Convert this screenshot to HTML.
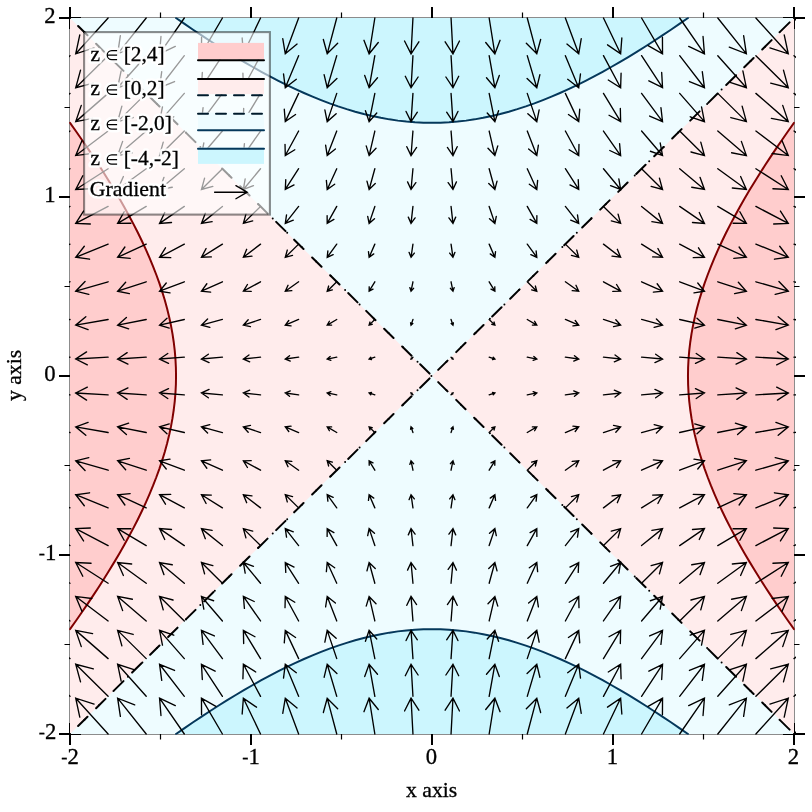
<!DOCTYPE html>
<html><head><meta charset="utf-8"><title>Contour plot</title>
<style>html,body{margin:0;padding:0;background:#fff}svg{display:block;will-change:transform}text{font-family:"Liberation Serif",serif;fill:#000;stroke:#000;stroke-width:0.3px}text.h{stroke:#fff;stroke-opacity:0.9;stroke-width:5.5px;stroke-linejoin:round;fill:#fff}</style></head>
<body>
<svg width="812" height="812" viewBox="0 0 812 812">
<defs><clipPath id="cf"><rect x="70" y="18" width="724" height="716"/></clipPath>
<clipPath id="ca"><rect x="69.2" y="17.2" width="725.6" height="717.6"/></clipPath>
<clipPath id="cb"><rect x="69.05" y="17" width="727.05" height="718"/></clipPath></defs>
<rect width="812" height="812" fill="#fff"/>
<rect x="70" y="18" width="724" height="716" fill="none" stroke="#8c8c8c" stroke-width="2"/>
<path d="M70 7V29M70 723V745M59 734H81M783 734H805M251 7V29M251 723V745M59 555H81M783 555H805M432 7V29M432 723V745M59 376H81M783 376H805M613 7V29M613 723V745M59 197H81M783 197H805M794 7V29M794 723V745M59 18H81M783 18H805" stroke="#000" stroke-width="2" fill="none"/>
<path d="M160.5 12.5V23.5M160.5 728.5V739.5M64.5 644.5H75.5M788.5 644.5H799.5M341.5 12.5V23.5M341.5 728.5V739.5M64.5 465.5H75.5M788.5 465.5H799.5M522.5 12.5V23.5M522.5 728.5V739.5M64.5 286.5H75.5M788.5 286.5H799.5M703.5 12.5V23.5M703.5 728.5V739.5M64.5 107.5H75.5M788.5 107.5H799.5" stroke="#000" stroke-width="1.2" fill="none"/>
<g clip-path="url(#cf)">
<rect x="70" y="18" width="724" height="716" fill="#ffecec"/>
<path d="M432 376L70 18L794 18ZM432 376L70 734L794 734Z" fill="#eefcff"/>
<path d="M794 629.14L788.02 620.71L782.14 612.27L776.38 603.83L770.73 595.39L765.2 586.95L759.8 578.52L754.54 570.08L749.42 561.64L744.45 553.2L739.64 544.76L734.99 536.32L730.51 527.89L726.21 519.45L722.1 511.01L718.19 502.57L714.47 494.13L710.97 485.7L707.69 477.26L704.64 468.82L701.82 460.38L699.24 451.94L696.92 443.51L694.85 435.07L693.04 426.63L691.5 418.19L690.24 409.75L689.25 401.31L688.54 392.88L688.11 384.44L687.97 376L688.11 367.56L688.54 359.12L689.25 350.69L690.24 342.25L691.5 333.81L693.04 325.37L694.85 316.93L696.92 308.49L699.24 300.06L701.82 291.62L704.64 283.18L707.69 274.74L710.97 266.3L714.47 257.87L718.19 249.43L722.1 240.99L726.21 232.55L730.51 224.11L734.99 215.68L739.64 207.24L744.45 198.8L749.42 190.36L754.54 181.92L759.8 173.48L765.2 165.05L770.73 156.61L776.38 148.17L782.14 139.73L788.02 131.29L794 122.86L799 122.86L799 629.14ZM70 629.14L75.98 620.71L81.86 612.27L87.62 603.83L93.27 595.39L98.8 586.95L104.2 578.52L109.46 570.08L114.58 561.64L119.55 553.2L124.36 544.76L129.01 536.32L133.49 527.89L137.79 519.45L141.9 511.01L145.81 502.57L149.53 494.13L153.03 485.7L156.31 477.26L159.36 468.82L162.18 460.38L164.76 451.94L167.08 443.51L169.15 435.07L170.96 426.63L172.5 418.19L173.76 409.75L174.75 401.31L175.46 392.88L175.89 384.44L176.03 376L175.89 367.56L175.46 359.12L174.75 350.69L173.76 342.25L172.5 333.81L170.96 325.37L169.15 316.93L167.08 308.49L164.76 300.06L162.18 291.62L159.36 283.18L156.31 274.74L153.03 266.3L149.53 257.87L145.81 249.43L141.9 240.99L137.79 232.55L133.49 224.11L129.01 215.68L124.36 207.24L119.55 198.8L114.58 190.36L109.46 181.92L104.2 173.48L98.8 165.05L93.27 156.61L87.62 148.17L81.86 139.73L75.98 131.29L70 122.86L65 122.86L65 629.14Z" fill="#ffcdcd"/>
<path d="M176.03 18L184.56 23.92L193.09 29.73L201.62 35.43L210.16 41.02L218.69 46.48L227.22 51.82L235.75 57.02L244.29 62.08L252.82 67L261.35 71.76L269.88 76.36L278.42 80.79L286.95 85.04L295.48 89.1L304.01 92.98L312.55 96.65L321.08 100.11L329.61 103.36L338.14 106.38L346.68 109.16L355.21 111.71L363.74 114.01L372.27 116.06L380.81 117.84L389.34 119.36L397.87 120.62L406.4 121.59L414.94 122.29L423.47 122.72L432 122.86L440.53 122.72L449.06 122.29L457.6 121.59L466.13 120.62L474.66 119.36L483.19 117.84L491.73 116.06L500.26 114.01L508.79 111.71L517.32 109.16L525.86 106.38L534.39 103.36L542.92 100.11L551.45 96.65L559.99 92.98L568.52 89.1L577.05 85.04L585.58 80.79L594.12 76.36L602.65 71.76L611.18 67L619.71 62.08L628.25 57.02L636.78 51.82L645.31 46.48L653.84 41.02L662.38 35.43L670.91 29.73L679.44 23.92L687.97 18L687.97 13L176.03 13ZM176.03 734L184.56 728.08L193.09 722.27L201.62 716.57L210.16 710.98L218.69 705.52L227.22 700.18L235.75 694.98L244.29 689.92L252.82 685L261.35 680.24L269.88 675.64L278.42 671.21L286.95 666.96L295.48 662.9L304.01 659.02L312.55 655.35L321.08 651.89L329.61 648.64L338.14 645.62L346.68 642.84L355.21 640.29L363.74 637.99L372.27 635.94L380.81 634.16L389.34 632.64L397.87 631.38L406.4 630.41L414.94 629.71L423.47 629.28L432 629.14L440.53 629.28L449.06 629.71L457.6 630.41L466.13 631.38L474.66 632.64L483.19 634.16L491.73 635.94L500.26 637.99L508.79 640.29L517.32 642.84L525.86 645.62L534.39 648.64L542.92 651.89L551.45 655.35L559.99 659.02L568.52 662.9L577.05 666.96L585.58 671.21L594.12 675.64L602.65 680.24L611.18 685L619.71 689.92L628.25 694.98L636.78 700.18L645.31 705.52L653.84 710.98L662.38 716.57L670.91 722.27L679.44 728.08L687.97 734L687.97 739L176.03 739Z" fill="#ccf6fe"/>
</g>
<g clip-path="url(#ca)" fill="none" stroke-width="2" stroke-linecap="round" stroke-linejoin="round">
<path d="M794 629.14L788.02 620.71L782.14 612.27L776.38 603.83L770.73 595.39L765.2 586.95L759.8 578.52L754.54 570.08L749.42 561.64L744.45 553.2L739.64 544.76L734.99 536.32L730.51 527.89L726.21 519.45L722.1 511.01L718.19 502.57L714.47 494.13L710.97 485.7L707.69 477.26L704.64 468.82L701.82 460.38L699.24 451.94L696.92 443.51L694.85 435.07L693.04 426.63L691.5 418.19L690.24 409.75L689.25 401.31L688.54 392.88L688.11 384.44L687.97 376L688.11 367.56L688.54 359.12L689.25 350.69L690.24 342.25L691.5 333.81L693.04 325.37L694.85 316.93L696.92 308.49L699.24 300.06L701.82 291.62L704.64 283.18L707.69 274.74L710.97 266.3L714.47 257.87L718.19 249.43L722.1 240.99L726.21 232.55L730.51 224.11L734.99 215.68L739.64 207.24L744.45 198.8L749.42 190.36L754.54 181.92L759.8 173.48L765.2 165.05L770.73 156.61L776.38 148.17L782.14 139.73L788.02 131.29L794 122.86M70 629.14L75.98 620.71L81.86 612.27L87.62 603.83L93.27 595.39L98.8 586.95L104.2 578.52L109.46 570.08L114.58 561.64L119.55 553.2L124.36 544.76L129.01 536.32L133.49 527.89L137.79 519.45L141.9 511.01L145.81 502.57L149.53 494.13L153.03 485.7L156.31 477.26L159.36 468.82L162.18 460.38L164.76 451.94L167.08 443.51L169.15 435.07L170.96 426.63L172.5 418.19L173.76 409.75L174.75 401.31L175.46 392.88L175.89 384.44L176.03 376L175.89 367.56L175.46 359.12L174.75 350.69L173.76 342.25L172.5 333.81L170.96 325.37L169.15 316.93L167.08 308.49L164.76 300.06L162.18 291.62L159.36 283.18L156.31 274.74L153.03 266.3L149.53 257.87L145.81 249.43L141.9 240.99L137.79 232.55L133.49 224.11L129.01 215.68L124.36 207.24L119.55 198.8L114.58 190.36L109.46 181.92L104.2 173.48L98.8 165.05L93.27 156.61L87.62 148.17L81.86 139.73L75.98 131.29L70 122.86" stroke="#800000"/>
<path d="M176.03 18L184.56 23.92L193.09 29.73L201.62 35.43L210.16 41.02L218.69 46.48L227.22 51.82L235.75 57.02L244.29 62.08L252.82 67L261.35 71.76L269.88 76.36L278.42 80.79L286.95 85.04L295.48 89.1L304.01 92.98L312.55 96.65L321.08 100.11L329.61 103.36L338.14 106.38L346.68 109.16L355.21 111.71L363.74 114.01L372.27 116.06L380.81 117.84L389.34 119.36L397.87 120.62L406.4 121.59L414.94 122.29L423.47 122.72L432 122.86L440.53 122.72L449.06 122.29L457.6 121.59L466.13 120.62L474.66 119.36L483.19 117.84L491.73 116.06L500.26 114.01L508.79 111.71L517.32 109.16L525.86 106.38L534.39 103.36L542.92 100.11L551.45 96.65L559.99 92.98L568.52 89.1L577.05 85.04L585.58 80.79L594.12 76.36L602.65 71.76L611.18 67L619.71 62.08L628.25 57.02L636.78 51.82L645.31 46.48L653.84 41.02L662.38 35.43L670.91 29.73L679.44 23.92L687.97 18M176.03 734L184.56 728.08L193.09 722.27L201.62 716.57L210.16 710.98L218.69 705.52L227.22 700.18L235.75 694.98L244.29 689.92L252.82 685L261.35 680.24L269.88 675.64L278.42 671.21L286.95 666.96L295.48 662.9L304.01 659.02L312.55 655.35L321.08 651.89L329.61 648.64L338.14 645.62L346.68 642.84L355.21 640.29L363.74 637.99L372.27 635.94L380.81 634.16L389.34 632.64L397.87 631.38L406.4 630.41L414.94 629.71L423.47 629.28L432 629.14L440.53 629.28L449.06 629.71L457.6 630.41L466.13 631.38L474.66 632.64L483.19 634.16L491.73 635.94L500.26 637.99L508.79 640.29L517.32 642.84L525.86 645.62L534.39 648.64L542.92 651.89L551.45 655.35L559.99 659.02L568.52 662.9L577.05 666.96L585.58 671.21L594.12 675.64L602.65 680.24L611.18 685L619.71 689.92L628.25 694.98L636.78 700.18L645.31 705.52L653.84 710.98L662.38 716.57L670.91 722.27L679.44 728.08L687.97 734" stroke="#05385b"/>
<path d="M70 18L794 734M70 734L794 18" stroke="#000" stroke-dasharray="13.2 12.12" stroke-dashoffset="13.92"/>
<path d="M431.4 376h0M70 734h0M70 18h0M84.48 719.68h0M84.48 32.32h0M98.96 705.36h0M98.96 46.64h0M113.44 691.04h0M113.44 60.96h0M127.92 676.72h0M127.92 75.28h0M142.4 662.4h0M142.4 89.6h0M156.88 648.08h0M156.88 103.92h0M171.36 633.76h0M171.36 118.24h0M185.84 619.44h0M185.84 132.56h0M200.32 605.12h0M200.32 146.88h0M214.8 590.8h0M214.8 161.2h0M229.28 576.48h0M229.28 175.52h0M243.76 562.16h0M243.76 189.84h0M258.24 547.84h0M258.24 204.16h0M272.72 533.52h0M272.72 218.48h0M287.2 519.2h0M287.2 232.8h0M301.68 504.88h0M301.68 247.12h0M316.16 490.56h0M316.16 261.44h0M330.64 476.24h0M330.64 275.76h0M345.12 461.92h0M345.12 290.08h0M359.6 447.6h0M359.6 304.4h0M374.08 433.28h0M374.08 318.72h0M388.56 418.96h0M388.56 333.04h0M403.04 404.64h0M403.04 347.36h0M417.52 390.32h0M417.52 361.68h0M446.48 361.68h0M446.48 390.32h0M460.96 347.36h0M460.96 404.64h0M475.44 333.04h0M475.44 418.96h0M489.92 318.72h0M489.92 433.28h0M504.4 304.4h0M504.4 447.6h0M518.88 290.08h0M518.88 461.92h0M533.36 275.76h0M533.36 476.24h0M547.84 261.44h0M547.84 490.56h0M562.32 247.12h0M562.32 504.88h0M576.8 232.8h0M576.8 519.2h0M591.28 218.48h0M591.28 533.52h0M605.76 204.16h0M605.76 547.84h0M620.24 189.84h0M620.24 562.16h0M634.72 175.52h0M634.72 576.48h0M649.2 161.2h0M649.2 590.8h0M663.68 146.88h0M663.68 605.12h0M678.16 132.56h0M678.16 619.44h0M692.64 118.24h0M692.64 633.76h0M707.12 103.92h0M707.12 648.08h0M721.6 89.6h0M721.6 662.4h0M736.08 75.28h0M736.08 676.72h0M750.56 60.96h0M750.56 691.04h0M765.04 46.64h0M765.04 705.36h0M779.52 32.32h0M779.52 719.68h0M794 18h0M794 734h0" stroke="#000"/>
</g>
<path clip-path="url(#cb)" d="M70 734L33.8 698.2M39.18 717.84L33.8 698.2L53.5 703.36M70 696.32L33.8 664.28M39.93 682.62L33.8 664.28L52.75 668.14M70 658.63L33.8 630.37M40.69 647.4L33.8 630.37L51.99 632.92M70 620.95L33.8 596.45M41.44 612.18L33.8 596.45L51.24 597.7M70 583.26L33.8 562.54M42.19 576.96L33.8 562.54L50.49 562.48M70 545.58L33.8 528.62M42.95 541.74L33.8 528.62L49.73 527.26M70 507.89L33.8 494.71M43.7 506.51L33.8 494.71L48.98 492.03M70 470.21L33.8 460.79M44.46 471.29L33.8 460.79L48.22 456.81M70 432.53L33.8 426.87M45.21 436.07L33.8 426.87L47.47 421.59M70 394.84L33.8 392.96M45.96 400.85L33.8 392.96L46.72 386.37M70 357.16L33.8 359.04M46.72 365.63L33.8 359.04L45.96 351.15M70 319.47L33.8 325.13M47.47 330.41L33.8 325.13L45.21 315.93M70 281.79L33.8 291.21M48.22 295.19L33.8 291.21L44.46 280.71M70 244.11L33.8 257.29M48.98 259.97L33.8 257.29L43.7 245.49M70 206.42L33.8 223.38M49.73 224.74L33.8 223.38L42.95 210.26M70 168.74L33.8 189.46M50.49 189.52L33.8 189.46L42.19 175.04M70 131.05L33.8 155.55M51.24 154.3L33.8 155.55L41.44 139.82M70 93.37L33.8 121.63M51.99 119.08L33.8 121.63L40.69 104.6M70 55.68L33.8 87.72M52.75 83.86L33.8 87.72L39.93 69.38M70 18L33.8 53.8M53.5 48.64L33.8 53.8L39.18 34.16M108.11 734L75.72 698.2M79.78 717.08L75.72 698.2L94.1 704.12M108.11 696.32L75.72 664.28M80.53 681.86L75.72 664.28L93.34 668.9M108.11 658.63L75.72 630.37M81.28 646.64L75.72 630.37L92.59 633.68M108.11 620.95L75.72 596.45M82.04 611.42L75.72 596.45L91.83 598.46M108.11 583.26L75.72 562.54M82.79 576.19L75.72 562.54L91.08 563.24M108.11 545.58L75.72 528.62M83.54 540.97L75.72 528.62L90.33 528.02M108.11 507.89L75.72 494.71M84.3 505.75L75.72 494.71L89.57 492.8M108.11 470.21L75.72 460.79M85.05 470.53L75.72 460.79L88.82 457.58M108.11 432.53L75.72 426.87M85.81 435.31L75.72 426.87L88.07 422.35M108.11 394.84L75.72 392.96M86.56 400.09L75.72 392.96L87.31 387.13M108.11 357.16L75.72 359.04M87.31 364.87L75.72 359.04L86.56 351.91M108.11 319.47L75.72 325.13M88.07 329.65L75.72 325.13L85.81 316.69M108.11 281.79L75.72 291.21M88.82 294.42L75.72 291.21L85.05 281.47M108.11 244.11L75.72 257.29M89.57 259.2L75.72 257.29L84.3 246.25M108.11 206.42L75.72 223.38M90.33 223.98L75.72 223.38L83.54 211.03M108.11 168.74L75.72 189.46M91.08 188.76L75.72 189.46L82.79 175.81M108.11 131.05L75.72 155.55M91.83 153.54L75.72 155.55L82.04 140.58M108.11 93.37L75.72 121.63M92.59 118.32L75.72 121.63L81.28 105.36M108.11 55.68L75.72 87.72M93.34 83.1L75.72 87.72L80.53 70.14M108.11 18L75.72 53.8M94.1 47.88L75.72 53.8L79.78 34.92M146.21 734L117.63 698.2M120.37 716.32L117.63 698.2L134.69 704.89M146.21 696.32L117.63 664.28M121.13 681.1L117.63 664.28L133.94 669.66M146.21 658.63L117.63 630.37M121.88 645.87L117.63 630.37L133.18 634.44M146.21 620.95L117.63 596.45M122.63 610.65L117.63 596.45L132.43 599.22M146.21 583.26L117.63 562.54M123.39 575.43L117.63 562.54L131.68 564M146.21 545.58L117.63 528.62M124.14 540.21L117.63 528.62L130.92 528.78M146.21 507.89L117.63 494.71M124.89 504.99L117.63 494.71L130.17 493.56M146.21 470.21L117.63 460.79M125.65 469.77L117.63 460.79L129.42 458.34M146.21 432.53L117.63 426.87M126.4 434.55L117.63 426.87L128.66 423.12M146.21 394.84L117.63 392.96M127.15 399.33L117.63 392.96L127.91 387.89M146.21 357.16L117.63 359.04M127.91 364.11L117.63 359.04L127.15 352.67M146.21 319.47L117.63 325.13M128.66 328.88L117.63 325.13L126.4 317.45M146.21 281.79L117.63 291.21M129.42 293.66L117.63 291.21L125.65 282.23M146.21 244.11L117.63 257.29M130.17 258.44L117.63 257.29L124.89 247.01M146.21 206.42L117.63 223.38M130.92 223.22L117.63 223.38L124.14 211.79M146.21 168.74L117.63 189.46M131.68 188L117.63 189.46L123.39 176.57M146.21 131.05L117.63 155.55M132.43 152.78L117.63 155.55L122.63 141.35M146.21 93.37L117.63 121.63M133.18 117.56L117.63 121.63L121.88 106.13M146.21 55.68L117.63 87.72M133.94 82.34L117.63 87.72L121.13 70.9M146.21 18L117.63 53.8M134.69 47.11L117.63 53.8L120.37 35.68M184.32 734L159.55 698.2M160.97 715.56L159.55 698.2L175.29 705.65M184.32 696.32L159.55 664.28M161.72 680.33L159.55 664.28L174.53 670.43M184.32 658.63L159.55 630.37M162.47 645.11L159.55 630.37L173.78 635.21M184.32 620.95L159.55 596.45M163.23 609.89L159.55 596.45L173.03 599.98M184.32 583.26L159.55 562.54M163.98 574.67L159.55 562.54L172.27 564.76M184.32 545.58L159.55 528.62M164.74 539.45L159.55 528.62L171.52 529.54M184.32 507.89L159.55 494.71M165.49 504.23L159.55 494.71L170.77 494.32M184.32 470.21L159.55 460.79M166.24 469.01L159.55 460.79L170.01 459.1M184.32 432.53L159.55 426.87M167 433.79L159.55 426.87L169.26 423.88M184.32 394.84L159.55 392.96M167.75 398.56L159.55 392.96L168.5 388.66M184.32 357.16L159.55 359.04M168.5 363.34L159.55 359.04L167.75 353.44M184.32 319.47L159.55 325.13M169.26 328.12L159.55 325.13L167 318.21M184.32 281.79L159.55 291.21M170.01 292.9L159.55 291.21L166.24 282.99M184.32 244.11L159.55 257.29M170.77 257.68L159.55 257.29L165.49 247.77M184.32 206.42L159.55 223.38M171.52 222.46L159.55 223.38L164.74 212.55M184.32 168.74L159.55 189.46M172.27 187.24L159.55 189.46L163.98 177.33M184.32 131.05L159.55 155.55M173.03 152.02L159.55 155.55L163.23 142.11M184.32 93.37L159.55 121.63M173.78 116.79L159.55 121.63L162.47 106.89M184.32 55.68L159.55 87.72M174.53 81.57L159.55 87.72L161.72 71.67M184.32 18L159.55 53.8M175.29 46.35L159.55 53.8L160.97 36.44M222.42 734L201.46 698.2M201.56 714.79L201.46 698.2L215.88 706.41M222.42 696.32L201.46 664.28M202.32 679.57L201.46 664.28L215.13 671.19M222.42 658.63L201.46 630.37M203.07 644.35L201.46 630.37L214.38 635.97M222.42 620.95L201.46 596.45M203.82 609.13L201.46 596.45L213.62 600.75M222.42 583.26L201.46 562.54M204.58 573.91L201.46 562.54L212.87 565.53M222.42 545.58L201.46 528.62M205.33 538.69L201.46 528.62L212.11 530.3M222.42 507.89L201.46 494.71M206.09 503.47L201.46 494.71L211.36 495.08M222.42 470.21L201.46 460.79M206.84 468.24L201.46 460.79L210.61 459.86M222.42 432.53L201.46 426.87M207.59 433.02L201.46 426.87L209.85 424.64M222.42 394.84L201.46 392.96M208.35 397.8L201.46 392.96L209.1 389.42M222.42 357.16L201.46 359.04M209.1 362.58L201.46 359.04L208.35 354.2M222.42 319.47L201.46 325.13M209.85 327.36L201.46 325.13L207.59 318.98M222.42 281.79L201.46 291.21M210.61 292.14L201.46 291.21L206.84 283.76M222.42 244.11L201.46 257.29M211.36 256.92L201.46 257.29L206.09 248.53M222.42 206.42L201.46 223.38M212.11 221.7L201.46 223.38L205.33 213.31M222.42 168.74L201.46 189.46M212.87 186.47L201.46 189.46L204.58 178.09M222.42 131.05L201.46 155.55M213.62 151.25L201.46 155.55L203.82 142.87M222.42 93.37L201.46 121.63M214.38 116.03L201.46 121.63L203.07 107.65M222.42 55.68L201.46 87.72M215.13 80.81L201.46 87.72L202.32 72.43M222.42 18L201.46 53.8M215.88 45.59L201.46 53.8L201.56 37.21M260.53 734L243.38 698.2M242.16 714.03L243.38 698.2L256.48 707.17M260.53 696.32L243.38 664.28M242.91 678.81L243.38 664.28L255.73 671.95M260.53 658.63L243.38 630.37M243.67 643.59L243.38 630.37L254.97 636.73M260.53 620.95L243.38 596.45M244.42 608.37L243.38 596.45L254.22 601.51M260.53 583.26L243.38 562.54M245.17 573.15L243.38 562.54L253.46 566.29M260.53 545.58L243.38 528.62M245.93 537.92L243.38 528.62L252.71 531.07M260.53 507.89L243.38 494.71M246.68 502.7L243.38 494.71L251.96 495.84M260.53 470.21L243.38 460.79M247.43 467.48L243.38 460.79L251.2 460.62M260.53 432.53L243.38 426.87M248.19 432.26L243.38 426.87L250.45 425.4M260.53 394.84L243.38 392.96M248.94 397.04L243.38 392.96L249.7 390.18M260.53 357.16L243.38 359.04M249.7 361.82L243.38 359.04L248.94 354.96M260.53 319.47L243.38 325.13M250.45 326.6L243.38 325.13L248.19 319.74M260.53 281.79L243.38 291.21M251.2 291.38L243.38 291.21L247.43 284.52M260.53 244.11L243.38 257.29M251.96 256.16L243.38 257.29L246.68 249.3M260.53 206.42L243.38 223.38M252.71 220.93L243.38 223.38L245.93 214.08M260.53 168.74L243.38 189.46M253.46 185.71L243.38 189.46L245.17 178.85M260.53 131.05L243.38 155.55M254.22 150.49L243.38 155.55L244.42 143.63M260.53 93.37L243.38 121.63M254.97 115.27L243.38 121.63L243.67 108.41M260.53 55.68L243.38 87.72M255.73 80.05L243.38 87.72L242.91 73.19M260.53 18L243.38 53.8M256.48 44.83L243.38 53.8L242.16 37.97M298.63 734L285.29 698.2M282.75 713.27L285.29 698.2L297.07 707.93M298.63 696.32L285.29 664.28M283.51 678.05L285.29 664.28L296.32 672.71M298.63 658.63L285.29 630.37M284.26 642.83L285.29 630.37L295.57 637.49M298.63 620.95L285.29 596.45M285.02 607.61L285.29 596.45L294.81 602.27M298.63 583.26L285.29 562.54M285.77 572.38L285.29 562.54L294.06 567.05M298.63 545.58L285.29 528.62M286.52 537.16L285.29 528.62L293.31 531.83M298.63 507.89L285.29 494.71M287.28 501.94L285.29 494.71L292.55 496.61M298.63 470.21L285.29 460.79M288.03 466.72L285.29 460.79L291.8 461.39M298.63 432.53L285.29 426.87M288.78 431.5L285.29 426.87L291.05 426.16M298.63 394.84L285.29 392.96M289.54 396.28L285.29 392.96L290.29 390.94M298.63 357.16L285.29 359.04M290.29 361.06L285.29 359.04L289.54 355.72M298.63 319.47L285.29 325.13M291.05 325.84L285.29 325.13L288.78 320.5M298.63 281.79L285.29 291.21M291.8 290.61L285.29 291.21L288.03 285.28M298.63 244.11L285.29 257.29M292.55 255.39L285.29 257.29L287.28 250.06M298.63 206.42L285.29 223.38M293.31 220.17L285.29 223.38L286.52 214.84M298.63 168.74L285.29 189.46M294.06 184.95L285.29 189.46L285.77 179.62M298.63 131.05L285.29 155.55M294.81 149.73L285.29 155.55L285.02 144.39M298.63 93.37L285.29 121.63M295.57 114.51L285.29 121.63L284.26 109.17M298.63 55.68L285.29 87.72M296.32 79.29L285.29 87.72L283.51 73.95M298.63 18L285.29 53.8M297.07 44.07L285.29 53.8L282.75 38.73M336.74 734L327.21 698.2M323.35 712.51L327.21 698.2L337.67 708.7M336.74 696.32L327.21 664.28M324.1 677.29L327.21 664.28L336.92 673.48M336.74 658.63L327.21 630.37M324.86 642.06L327.21 630.37L336.16 638.25M336.74 620.95L327.21 596.45M325.61 606.84L327.21 596.45L335.41 603.03M336.74 583.26L327.21 562.54M326.37 571.62L327.21 562.54L334.66 567.81M336.74 545.58L327.21 528.62M327.12 536.4L327.21 528.62L333.9 532.59M336.74 507.89L327.21 494.71M327.87 501.18L327.21 494.71L333.15 497.37M336.74 470.21L327.21 460.79M328.63 465.96L327.21 460.79L332.39 462.15M336.74 432.53L327.21 426.87M329.38 430.74L327.21 426.87L331.64 426.93M336.74 394.84L327.21 392.96M330.13 395.52L327.21 392.96L330.89 391.71M336.74 357.16L327.21 359.04M330.89 360.29L327.21 359.04L330.13 356.48M336.74 319.47L327.21 325.13M331.64 325.07L327.21 325.13L329.38 321.26M336.74 281.79L327.21 291.21M332.39 289.85L327.21 291.21L328.63 286.04M336.74 244.11L327.21 257.29M333.15 254.63L327.21 257.29L327.87 250.82M336.74 206.42L327.21 223.38M333.9 219.41L327.21 223.38L327.12 215.6M336.74 168.74L327.21 189.46M334.66 184.19L327.21 189.46L326.37 180.38M336.74 131.05L327.21 155.55M335.41 148.97L327.21 155.55L325.61 145.16M336.74 93.37L327.21 121.63M336.16 113.75L327.21 121.63L324.86 109.94M336.74 55.68L327.21 87.72M336.92 78.52L327.21 87.72L324.1 74.71M336.74 18L327.21 53.8M337.67 43.3L327.21 53.8L323.35 39.49M374.84 734L369.13 698.2M363.95 711.74L369.13 698.2L378.27 709.46M374.84 696.32L369.13 664.28M364.7 676.52L369.13 664.28L377.51 674.24M374.84 658.63L369.13 630.37M365.45 641.3L369.13 630.37L376.76 639.02M374.84 620.95L369.13 596.45M366.21 606.08L369.13 596.45L376.01 603.79M374.84 583.26L369.13 562.54M366.96 570.86L369.13 562.54L375.25 568.57M374.84 545.58L369.13 528.62M367.71 535.64L369.13 528.62L374.5 533.35M374.84 507.89L369.13 494.71M368.47 500.42L369.13 494.71L373.74 498.13M374.84 470.21L369.13 460.79M369.22 465.2L369.13 460.79L372.99 462.91M374.84 432.53L369.13 426.87M369.98 429.97L369.13 426.87L372.24 427.69M374.84 394.84L369.13 392.96M370.73 394.75L369.13 392.96L371.48 392.47M374.84 357.16L369.13 359.04M371.48 359.53L369.13 359.04L370.73 357.25M374.84 319.47L369.13 325.13M372.24 324.31L369.13 325.13L369.98 322.03M374.84 281.79L369.13 291.21M372.99 289.09L369.13 291.21L369.22 286.8M374.84 244.11L369.13 257.29M373.74 253.87L369.13 257.29L368.47 251.58M374.84 206.42L369.13 223.38M374.5 218.65L369.13 223.38L367.71 216.36M374.84 168.74L369.13 189.46M375.25 183.43L369.13 189.46L366.96 181.14M374.84 131.05L369.13 155.55M376.01 148.21L369.13 155.55L366.21 145.92M374.84 93.37L369.13 121.63M376.76 112.98L369.13 121.63L365.45 110.7M374.84 55.68L369.13 87.72M377.51 77.76L369.13 87.72L364.7 75.48M374.84 18L369.13 53.8M378.27 42.54L369.13 53.8L363.95 40.26M412.95 734L411.04 698.2M404.54 710.98L411.04 698.2L418.86 710.22M412.95 696.32L411.04 664.28M405.3 675.76L411.04 664.28L418.11 675M412.95 658.63L411.04 630.37M406.05 640.54L411.04 630.37L417.35 639.78M412.95 620.95L411.04 596.45M406.8 605.32L411.04 596.45L416.6 604.56M412.95 583.26L411.04 562.54M407.56 570.1L411.04 562.54L415.85 569.34M412.95 545.58L411.04 528.62M408.31 534.88L411.04 528.62L415.09 534.11M412.95 507.89L411.04 494.71M409.06 499.66L411.04 494.71L414.34 498.89M412.95 470.21L411.04 460.79M409.82 464.43L411.04 460.79L413.59 463.67M412.95 432.53L411.04 426.87M410.57 429.21L411.04 426.87L412.83 428.45M412.95 394.84L411.04 392.96M411.33 393.99L411.04 392.96L412.08 393.23M412.95 357.16L411.04 359.04M412.08 358.77L411.04 359.04L411.33 358.01M412.95 319.47L411.04 325.13M412.83 323.55L411.04 325.13L410.57 322.79M412.95 281.79L411.04 291.21M413.59 288.33L411.04 291.21L409.82 287.57M412.95 244.11L411.04 257.29M414.34 253.11L411.04 257.29L409.06 252.34M412.95 206.42L411.04 223.38M415.09 217.89L411.04 223.38L408.31 217.12M412.95 168.74L411.04 189.46M415.85 182.66L411.04 189.46L407.56 181.9M412.95 131.05L411.04 155.55M416.6 147.44L411.04 155.55L406.8 146.68M412.95 93.37L411.04 121.63M417.35 112.22L411.04 121.63L406.05 111.46M412.95 55.68L411.04 87.72M418.11 77L411.04 87.72L405.3 76.24M412.95 18L411.04 53.8M418.86 41.78L411.04 53.8L404.54 41.02M451.05 734L452.96 698.2M445.14 710.22L452.96 698.2L459.46 710.98M451.05 696.32L452.96 664.28M445.89 675L452.96 664.28L458.7 675.76M451.05 658.63L452.96 630.37M446.65 639.78L452.96 630.37L457.95 640.54M451.05 620.95L452.96 596.45M447.4 604.56L452.96 596.45L457.2 605.32M451.05 583.26L452.96 562.54M448.15 569.34L452.96 562.54L456.44 570.1M451.05 545.58L452.96 528.62M448.91 534.11L452.96 528.62L455.69 534.88M451.05 507.89L452.96 494.71M449.66 498.89L452.96 494.71L454.94 499.66M451.05 470.21L452.96 460.79M450.41 463.67L452.96 460.79L454.18 464.43M451.05 432.53L452.96 426.87M451.17 428.45L452.96 426.87L453.43 429.21M451.05 394.84L452.96 392.96M451.92 393.23L452.96 392.96L452.67 393.99M451.05 357.16L452.96 359.04M452.67 358.01L452.96 359.04L451.92 358.77M451.05 319.47L452.96 325.13M453.43 322.79L452.96 325.13L451.17 323.55M451.05 281.79L452.96 291.21M454.18 287.57L452.96 291.21L450.41 288.33M451.05 244.11L452.96 257.29M454.94 252.34L452.96 257.29L449.66 253.11M451.05 206.42L452.96 223.38M455.69 217.12L452.96 223.38L448.91 217.89M451.05 168.74L452.96 189.46M456.44 181.9L452.96 189.46L448.15 182.66M451.05 131.05L452.96 155.55M457.2 146.68L452.96 155.55L447.4 147.44M451.05 93.37L452.96 121.63M457.95 111.46L452.96 121.63L446.65 112.22M451.05 55.68L452.96 87.72M458.7 76.24L452.96 87.72L445.89 77M451.05 18L452.96 53.8M459.46 41.02L452.96 53.8L445.14 41.78M489.16 734L494.87 698.2M485.73 709.46L494.87 698.2L500.05 711.74M489.16 696.32L494.87 664.28M486.49 674.24L494.87 664.28L499.3 676.52M489.16 658.63L494.87 630.37M487.24 639.02L494.87 630.37L498.55 641.3M489.16 620.95L494.87 596.45M487.99 603.79L494.87 596.45L497.79 606.08M489.16 583.26L494.87 562.54M488.75 568.57L494.87 562.54L497.04 570.86M489.16 545.58L494.87 528.62M489.5 533.35L494.87 528.62L496.29 535.64M489.16 507.89L494.87 494.71M490.26 498.13L494.87 494.71L495.53 500.42M489.16 470.21L494.87 460.79M491.01 462.91L494.87 460.79L494.78 465.2M489.16 432.53L494.87 426.87M491.76 427.69L494.87 426.87L494.02 429.97M489.16 394.84L494.87 392.96M492.52 392.47L494.87 392.96L493.27 394.75M489.16 357.16L494.87 359.04M493.27 357.25L494.87 359.04L492.52 359.53M489.16 319.47L494.87 325.13M494.02 322.03L494.87 325.13L491.76 324.31M489.16 281.79L494.87 291.21M494.78 286.8L494.87 291.21L491.01 289.09M489.16 244.11L494.87 257.29M495.53 251.58L494.87 257.29L490.26 253.87M489.16 206.42L494.87 223.38M496.29 216.36L494.87 223.38L489.5 218.65M489.16 168.74L494.87 189.46M497.04 181.14L494.87 189.46L488.75 183.43M489.16 131.05L494.87 155.55M497.79 145.92L494.87 155.55L487.99 148.21M489.16 93.37L494.87 121.63M498.55 110.7L494.87 121.63L487.24 112.98M489.16 55.68L494.87 87.72M499.3 75.48L494.87 87.72L486.49 77.76M489.16 18L494.87 53.8M500.05 40.26L494.87 53.8L485.73 42.54M527.26 734L536.79 698.2M526.33 708.7L536.79 698.2L540.65 712.51M527.26 696.32L536.79 664.28M527.08 673.48L536.79 664.28L539.9 677.29M527.26 658.63L536.79 630.37M527.84 638.25L536.79 630.37L539.14 642.06M527.26 620.95L536.79 596.45M528.59 603.03L536.79 596.45L538.39 606.84M527.26 583.26L536.79 562.54M529.34 567.81L536.79 562.54L537.63 571.62M527.26 545.58L536.79 528.62M530.1 532.59L536.79 528.62L536.88 536.4M527.26 507.89L536.79 494.71M530.85 497.37L536.79 494.71L536.13 501.18M527.26 470.21L536.79 460.79M531.61 462.15L536.79 460.79L535.37 465.96M527.26 432.53L536.79 426.87M532.36 426.93L536.79 426.87L534.62 430.74M527.26 394.84L536.79 392.96M533.11 391.71L536.79 392.96L533.87 395.52M527.26 357.16L536.79 359.04M533.87 356.48L536.79 359.04L533.11 360.29M527.26 319.47L536.79 325.13M534.62 321.26L536.79 325.13L532.36 325.07M527.26 281.79L536.79 291.21M535.37 286.04L536.79 291.21L531.61 289.85M527.26 244.11L536.79 257.29M536.13 250.82L536.79 257.29L530.85 254.63M527.26 206.42L536.79 223.38M536.88 215.6L536.79 223.38L530.1 219.41M527.26 168.74L536.79 189.46M537.63 180.38L536.79 189.46L529.34 184.19M527.26 131.05L536.79 155.55M538.39 145.16L536.79 155.55L528.59 148.97M527.26 93.37L536.79 121.63M539.14 109.94L536.79 121.63L527.84 113.75M527.26 55.68L536.79 87.72M539.9 74.71L536.79 87.72L527.08 78.52M527.26 18L536.79 53.8M540.65 39.49L536.79 53.8L526.33 43.3M565.37 734L578.71 698.2M566.93 707.93L578.71 698.2L581.25 713.27M565.37 696.32L578.71 664.28M567.68 672.71L578.71 664.28L580.49 678.05M565.37 658.63L578.71 630.37M568.43 637.49L578.71 630.37L579.74 642.83M565.37 620.95L578.71 596.45M569.19 602.27L578.71 596.45L578.98 607.61M565.37 583.26L578.71 562.54M569.94 567.05L578.71 562.54L578.23 572.38M565.37 545.58L578.71 528.62M570.69 531.83L578.71 528.62L577.48 537.16M565.37 507.89L578.71 494.71M571.45 496.61L578.71 494.71L576.72 501.94M565.37 470.21L578.71 460.79M572.2 461.39L578.71 460.79L575.97 466.72M565.37 432.53L578.71 426.87M572.95 426.16L578.71 426.87L575.22 431.5M565.37 394.84L578.71 392.96M573.71 390.94L578.71 392.96L574.46 396.28M565.37 357.16L578.71 359.04M574.46 355.72L578.71 359.04L573.71 361.06M565.37 319.47L578.71 325.13M575.22 320.5L578.71 325.13L572.95 325.84M565.37 281.79L578.71 291.21M575.97 285.28L578.71 291.21L572.2 290.61M565.37 244.11L578.71 257.29M576.72 250.06L578.71 257.29L571.45 255.39M565.37 206.42L578.71 223.38M577.48 214.84L578.71 223.38L570.69 220.17M565.37 168.74L578.71 189.46M578.23 179.62L578.71 189.46L569.94 184.95M565.37 131.05L578.71 155.55M578.98 144.39L578.71 155.55L569.19 149.73M565.37 93.37L578.71 121.63M579.74 109.17L578.71 121.63L568.43 114.51M565.37 55.68L578.71 87.72M580.49 73.95L578.71 87.72L567.68 79.29M565.37 18L578.71 53.8M581.25 38.73L578.71 53.8L566.93 44.07M603.47 734L620.62 698.2M607.52 707.17L620.62 698.2L621.84 714.03M603.47 696.32L620.62 664.28M608.27 671.95L620.62 664.28L621.09 678.81M603.47 658.63L620.62 630.37M609.03 636.73L620.62 630.37L620.33 643.59M603.47 620.95L620.62 596.45M609.78 601.51L620.62 596.45L619.58 608.37M603.47 583.26L620.62 562.54M610.54 566.29L620.62 562.54L618.83 573.15M603.47 545.58L620.62 528.62M611.29 531.07L620.62 528.62L618.07 537.92M603.47 507.89L620.62 494.71M612.04 495.84L620.62 494.71L617.32 502.7M603.47 470.21L620.62 460.79M612.8 460.62L620.62 460.79L616.57 467.48M603.47 432.53L620.62 426.87M613.55 425.4L620.62 426.87L615.81 432.26M603.47 394.84L620.62 392.96M614.3 390.18L620.62 392.96L615.06 397.04M603.47 357.16L620.62 359.04M615.06 354.96L620.62 359.04L614.3 361.82M603.47 319.47L620.62 325.13M615.81 319.74L620.62 325.13L613.55 326.6M603.47 281.79L620.62 291.21M616.57 284.52L620.62 291.21L612.8 291.38M603.47 244.11L620.62 257.29M617.32 249.3L620.62 257.29L612.04 256.16M603.47 206.42L620.62 223.38M618.07 214.08L620.62 223.38L611.29 220.93M603.47 168.74L620.62 189.46M618.83 178.85L620.62 189.46L610.54 185.71M603.47 131.05L620.62 155.55M619.58 143.63L620.62 155.55L609.78 150.49M603.47 93.37L620.62 121.63M620.33 108.41L620.62 121.63L609.03 115.27M603.47 55.68L620.62 87.72M621.09 73.19L620.62 87.72L608.27 80.05M603.47 18L620.62 53.8M621.84 37.97L620.62 53.8L607.52 44.83M641.58 734L662.54 698.2M648.12 706.41L662.54 698.2L662.44 714.79M641.58 696.32L662.54 664.28M648.87 671.19L662.54 664.28L661.68 679.57M641.58 658.63L662.54 630.37M649.62 635.97L662.54 630.37L660.93 644.35M641.58 620.95L662.54 596.45M650.38 600.75L662.54 596.45L660.18 609.13M641.58 583.26L662.54 562.54M651.13 565.53L662.54 562.54L659.42 573.91M641.58 545.58L662.54 528.62M651.89 530.3L662.54 528.62L658.67 538.69M641.58 507.89L662.54 494.71M652.64 495.08L662.54 494.71L657.91 503.47M641.58 470.21L662.54 460.79M653.39 459.86L662.54 460.79L657.16 468.24M641.58 432.53L662.54 426.87M654.15 424.64L662.54 426.87L656.41 433.02M641.58 394.84L662.54 392.96M654.9 389.42L662.54 392.96L655.65 397.8M641.58 357.16L662.54 359.04M655.65 354.2L662.54 359.04L654.9 362.58M641.58 319.47L662.54 325.13M656.41 318.98L662.54 325.13L654.15 327.36M641.58 281.79L662.54 291.21M657.16 283.76L662.54 291.21L653.39 292.14M641.58 244.11L662.54 257.29M657.91 248.53L662.54 257.29L652.64 256.92M641.58 206.42L662.54 223.38M658.67 213.31L662.54 223.38L651.89 221.7M641.58 168.74L662.54 189.46M659.42 178.09L662.54 189.46L651.13 186.47M641.58 131.05L662.54 155.55M660.18 142.87L662.54 155.55L650.38 151.25M641.58 93.37L662.54 121.63M660.93 107.65L662.54 121.63L649.62 116.03M641.58 55.68L662.54 87.72M661.68 72.43L662.54 87.72L648.87 80.81M641.58 18L662.54 53.8M662.44 37.21L662.54 53.8L648.12 45.59M679.68 734L704.45 698.2M688.71 705.65L704.45 698.2L703.03 715.56M679.68 696.32L704.45 664.28M689.47 670.43L704.45 664.28L702.28 680.33M679.68 658.63L704.45 630.37M690.22 635.21L704.45 630.37L701.53 645.11M679.68 620.95L704.45 596.45M690.97 599.98L704.45 596.45L700.77 609.89M679.68 583.26L704.45 562.54M691.73 564.76L704.45 562.54L700.02 574.67M679.68 545.58L704.45 528.62M692.48 529.54L704.45 528.62L699.26 539.45M679.68 507.89L704.45 494.71M693.23 494.32L704.45 494.71L698.51 504.23M679.68 470.21L704.45 460.79M693.99 459.1L704.45 460.79L697.76 469.01M679.68 432.53L704.45 426.87M694.74 423.88L704.45 426.87L697 433.79M679.68 394.84L704.45 392.96M695.5 388.66L704.45 392.96L696.25 398.56M679.68 357.16L704.45 359.04M696.25 353.44L704.45 359.04L695.5 363.34M679.68 319.47L704.45 325.13M697 318.21L704.45 325.13L694.74 328.12M679.68 281.79L704.45 291.21M697.76 282.99L704.45 291.21L693.99 292.9M679.68 244.11L704.45 257.29M698.51 247.77L704.45 257.29L693.23 257.68M679.68 206.42L704.45 223.38M699.26 212.55L704.45 223.38L692.48 222.46M679.68 168.74L704.45 189.46M700.02 177.33L704.45 189.46L691.73 187.24M679.68 131.05L704.45 155.55M700.77 142.11L704.45 155.55L690.97 152.02M679.68 93.37L704.45 121.63M701.53 106.89L704.45 121.63L690.22 116.79M679.68 55.68L704.45 87.72M702.28 71.67L704.45 87.72L689.47 81.57M679.68 18L704.45 53.8M703.03 36.44L704.45 53.8L688.71 46.35M717.79 734L746.37 698.2M729.31 704.89L746.37 698.2L743.63 716.32M717.79 696.32L746.37 664.28M730.06 669.66L746.37 664.28L742.87 681.1M717.79 658.63L746.37 630.37M730.82 634.44L746.37 630.37L742.12 645.87M717.79 620.95L746.37 596.45M731.57 599.22L746.37 596.45L741.37 610.65M717.79 583.26L746.37 562.54M732.32 564L746.37 562.54L740.61 575.43M717.79 545.58L746.37 528.62M733.08 528.78L746.37 528.62L739.86 540.21M717.79 507.89L746.37 494.71M733.83 493.56L746.37 494.71L739.11 504.99M717.79 470.21L746.37 460.79M734.58 458.34L746.37 460.79L738.35 469.77M717.79 432.53L746.37 426.87M735.34 423.12L746.37 426.87L737.6 434.55M717.79 394.84L746.37 392.96M736.09 387.89L746.37 392.96L736.85 399.33M717.79 357.16L746.37 359.04M736.85 352.67L746.37 359.04L736.09 364.11M717.79 319.47L746.37 325.13M737.6 317.45L746.37 325.13L735.34 328.88M717.79 281.79L746.37 291.21M738.35 282.23L746.37 291.21L734.58 293.66M717.79 244.11L746.37 257.29M739.11 247.01L746.37 257.29L733.83 258.44M717.79 206.42L746.37 223.38M739.86 211.79L746.37 223.38L733.08 223.22M717.79 168.74L746.37 189.46M740.61 176.57L746.37 189.46L732.32 188M717.79 131.05L746.37 155.55M741.37 141.35L746.37 155.55L731.57 152.78M717.79 93.37L746.37 121.63M742.12 106.13L746.37 121.63L730.82 117.56M717.79 55.68L746.37 87.72M742.87 70.9L746.37 87.72L730.06 82.34M717.79 18L746.37 53.8M743.63 35.68L746.37 53.8L729.31 47.11M755.89 734L788.28 698.2M769.9 704.12L788.28 698.2L784.22 717.08M755.89 696.32L788.28 664.28M770.66 668.9L788.28 664.28L783.47 681.86M755.89 658.63L788.28 630.37M771.41 633.68L788.28 630.37L782.72 646.64M755.89 620.95L788.28 596.45M772.17 598.46L788.28 596.45L781.96 611.42M755.89 583.26L788.28 562.54M772.92 563.24L788.28 562.54L781.21 576.19M755.89 545.58L788.28 528.62M773.67 528.02L788.28 528.62L780.46 540.97M755.89 507.89L788.28 494.71M774.43 492.8L788.28 494.71L779.7 505.75M755.89 470.21L788.28 460.79M775.18 457.58L788.28 460.79L778.95 470.53M755.89 432.53L788.28 426.87M775.93 422.35L788.28 426.87L778.19 435.31M755.89 394.84L788.28 392.96M776.69 387.13L788.28 392.96L777.44 400.09M755.89 357.16L788.28 359.04M777.44 351.91L788.28 359.04L776.69 364.87M755.89 319.47L788.28 325.13M778.19 316.69L788.28 325.13L775.93 329.65M755.89 281.79L788.28 291.21M778.95 281.47L788.28 291.21L775.18 294.42M755.89 244.11L788.28 257.29M779.7 246.25L788.28 257.29L774.43 259.2M755.89 206.42L788.28 223.38M780.46 211.03L788.28 223.38L773.67 223.98M755.89 168.74L788.28 189.46M781.21 175.81L788.28 189.46L772.92 188.76M755.89 131.05L788.28 155.55M781.96 140.58L788.28 155.55L772.17 153.54M755.89 93.37L788.28 121.63M782.72 105.36L788.28 121.63L771.41 118.32M755.89 55.68L788.28 87.72M783.47 70.14L788.28 87.72L770.66 83.1M755.89 18L788.28 53.8M784.22 34.92L788.28 53.8L769.9 47.88M794 734L830.2 698.2M810.5 703.36L830.2 698.2L824.82 717.84M794 696.32L830.2 664.28M811.25 668.14L830.2 664.28L824.07 682.62M794 658.63L830.2 630.37M812.01 632.92L830.2 630.37L823.31 647.4M794 620.95L830.2 596.45M812.76 597.7L830.2 596.45L822.56 612.18M794 583.26L830.2 562.54M813.51 562.48L830.2 562.54L821.81 576.96M794 545.58L830.2 528.62M814.27 527.26L830.2 528.62L821.05 541.74M794 507.89L830.2 494.71M815.02 492.03L830.2 494.71L820.3 506.51M794 470.21L830.2 460.79M815.78 456.81L830.2 460.79L819.54 471.29M794 432.53L830.2 426.87M816.53 421.59L830.2 426.87L818.79 436.07M794 394.84L830.2 392.96M817.28 386.37L830.2 392.96L818.04 400.85M794 357.16L830.2 359.04M818.04 351.15L830.2 359.04L817.28 365.63M794 319.47L830.2 325.13M818.79 315.93L830.2 325.13L816.53 330.41M794 281.79L830.2 291.21M819.54 280.71L830.2 291.21L815.78 295.19M794 244.11L830.2 257.29M820.3 245.49L830.2 257.29L815.02 259.97M794 206.42L830.2 223.38M821.05 210.26L830.2 223.38L814.27 224.74M794 168.74L830.2 189.46M821.81 175.04L830.2 189.46L813.51 189.52M794 131.05L830.2 155.55M822.56 139.82L830.2 155.55L812.76 154.3M794 93.37L830.2 121.63M823.31 104.6L830.2 121.63L812.01 119.08M794 55.68L830.2 87.72M824.07 69.38L830.2 87.72L811.25 83.86M794 18L830.2 53.8M824.82 34.16L830.2 53.8L810.5 48.64" stroke="#000" stroke-width="1.35" fill="none" stroke-linecap="round" stroke-linejoin="miter" stroke-miterlimit="10"/>
<text x="70.1" y="764" font-family="Liberation Serif, serif" font-size="22.7" text-anchor="middle"><tspan font-size="18.5" dy="-1.1">-</tspan><tspan dy="1.1">2</tspan></text>
<text x="56.3" y="738.8" font-family="Liberation Serif, serif" font-size="22.7" text-anchor="end"><tspan font-size="18.5" dy="-1.1">-</tspan><tspan dy="1.1">2</tspan></text>
<text x="251.1" y="764" font-family="Liberation Serif, serif" font-size="22.7" text-anchor="middle"><tspan font-size="18.5" dy="-1.1">-</tspan><tspan dy="1.1">1</tspan></text>
<text x="56.3" y="559.8" font-family="Liberation Serif, serif" font-size="22.7" text-anchor="end"><tspan font-size="18.5" dy="-1.1">-</tspan><tspan dy="1.1">1</tspan></text>
<text x="431.5" y="764" font-family="Liberation Serif, serif" font-size="22.7" text-anchor="middle">0</text>
<text x="55.5" y="380.8" font-family="Liberation Serif, serif" font-size="22.7" text-anchor="end">0</text>
<text x="612.5" y="764" font-family="Liberation Serif, serif" font-size="22.7" text-anchor="middle">1</text>
<text x="55.5" y="201.8" font-family="Liberation Serif, serif" font-size="22.7" text-anchor="end">1</text>
<text x="793.5" y="764" font-family="Liberation Serif, serif" font-size="22.7" text-anchor="middle">2</text>
<text x="55.5" y="22.8" font-family="Liberation Serif, serif" font-size="22.7" text-anchor="end">2</text>
<text x="431.6" y="796.9" font-family="Liberation Serif, serif" font-size="21.7" text-anchor="middle">x axis</text>
<text transform="translate(21.0 375.5) rotate(-90)" font-family="Liberation Serif, serif" font-size="21.7" text-anchor="middle">y axis</text>
<rect x="84.1" y="32.1" width="185.8" height="182.5" fill="rgba(255,255,255,0.6)" stroke="rgba(0,0,0,0.45)" stroke-width="2.1"/>
<rect x="198" y="42.9" width="66" height="16.7" fill="#ffcdcd"/>
<path d="M198 60.3H264" stroke="#000" stroke-width="2" stroke-linecap="round" fill="none"/>
<rect x="198" y="77.9" width="66" height="16.2" fill="#ffecec"/>
<path d="M198 79H264" stroke="#000" stroke-width="2" stroke-linecap="round" fill="none"/>
<path d="M198 95.35H264" stroke="#001a2b" stroke-width="2" stroke-linecap="round" fill="none" stroke-dasharray="10 8"/>
<rect x="198" y="112.7" width="66" height="16.3" fill="#eefcff"/>
<path d="M198 113.8H264" stroke="#001a2b" stroke-width="2" stroke-linecap="round" fill="none" stroke-dasharray="10 8"/>
<path d="M198 130.2H264" stroke="#05385b" stroke-width="2" stroke-linecap="round" fill="none"/>
<rect x="198" y="147.6" width="66" height="16.3" fill="#ccf6fe"/>
<path d="M198 148.8H264" stroke="#05385b" stroke-width="2" stroke-linecap="round" fill="none"/>
<path d="M214.6 192.2L247.2 192.2M235.91 185.68L247.2 192.2L235.91 198.72" stroke="#000" stroke-width="1.35" fill="none" stroke-linecap="round" stroke-miterlimit="10"/>
<text x="90.6" y="60.5" font-family="Liberation Serif, serif" font-size="21.4" class="h">z</text>
<path d="M117.1 50.5H111.8 A4.6 4.6 0 0 0 111.8 59.7H117.1 M107.5 55.1H117.1" fill="none" stroke="#fff" stroke-opacity="0.9" stroke-width="6.5" stroke-linejoin="round" stroke-linecap="round"/>
<text x="123.7" y="60.5" font-family="Liberation Serif, serif" font-size="21.4" class="h">[2,4]</text>
<text x="90.6" y="60.5" font-family="Liberation Serif, serif" font-size="21.4">z</text>
<path d="M117.1 50.5H111.8 A4.6 4.6 0 0 0 111.8 59.7H117.1 M107.5 55.1H117.1" fill="none" stroke="#000" stroke-width="1.25"/>
<text x="123.7" y="60.5" font-family="Liberation Serif, serif" font-size="21.4">[2,4]</text>
<text x="90.6" y="95.2" font-family="Liberation Serif, serif" font-size="21.4" class="h">z</text>
<path d="M117.1 85.2H111.8 A4.6 4.6 0 0 0 111.8 94.4H117.1 M107.5 89.8H117.1" fill="none" stroke="#fff" stroke-opacity="0.9" stroke-width="6.5" stroke-linejoin="round" stroke-linecap="round"/>
<text x="123.7" y="95.2" font-family="Liberation Serif, serif" font-size="21.4" class="h">[0,2]</text>
<text x="90.6" y="95.2" font-family="Liberation Serif, serif" font-size="21.4">z</text>
<path d="M117.1 85.2H111.8 A4.6 4.6 0 0 0 111.8 94.4H117.1 M107.5 89.8H117.1" fill="none" stroke="#000" stroke-width="1.25"/>
<text x="123.7" y="95.2" font-family="Liberation Serif, serif" font-size="21.4">[0,2]</text>
<text x="90.6" y="130" font-family="Liberation Serif, serif" font-size="21.4" class="h">z</text>
<path d="M117.1 120H111.8 A4.6 4.6 0 0 0 111.8 129.2H117.1 M107.5 124.6H117.1" fill="none" stroke="#fff" stroke-opacity="0.9" stroke-width="6.5" stroke-linejoin="round" stroke-linecap="round"/>
<text x="123.7" y="130" font-family="Liberation Serif, serif" font-size="21.4" class="h">[-2,0]</text>
<text x="90.6" y="130" font-family="Liberation Serif, serif" font-size="21.4">z</text>
<path d="M117.1 120H111.8 A4.6 4.6 0 0 0 111.8 129.2H117.1 M107.5 124.6H117.1" fill="none" stroke="#000" stroke-width="1.25"/>
<text x="123.7" y="130" font-family="Liberation Serif, serif" font-size="21.4">[-2,0]</text>
<text x="90.6" y="164.9" font-family="Liberation Serif, serif" font-size="21.4" class="h">z</text>
<path d="M117.1 154.9H111.8 A4.6 4.6 0 0 0 111.8 164.1H117.1 M107.5 159.5H117.1" fill="none" stroke="#fff" stroke-opacity="0.9" stroke-width="6.5" stroke-linejoin="round" stroke-linecap="round"/>
<text x="123.7" y="164.9" font-family="Liberation Serif, serif" font-size="21.4" class="h">[-4,-2]</text>
<text x="90.6" y="164.9" font-family="Liberation Serif, serif" font-size="21.4">z</text>
<path d="M117.1 154.9H111.8 A4.6 4.6 0 0 0 111.8 164.1H117.1 M107.5 159.5H117.1" fill="none" stroke="#000" stroke-width="1.25"/>
<text x="123.7" y="164.9" font-family="Liberation Serif, serif" font-size="21.4">[-4,-2]</text>
<text x="89.7" y="196" font-family="Liberation Serif, serif" font-size="21.8" class="h">Gradient</text>
<text x="89.7" y="196" font-family="Liberation Serif, serif" font-size="21.8">Gradient</text>
</svg>
</body></html>
